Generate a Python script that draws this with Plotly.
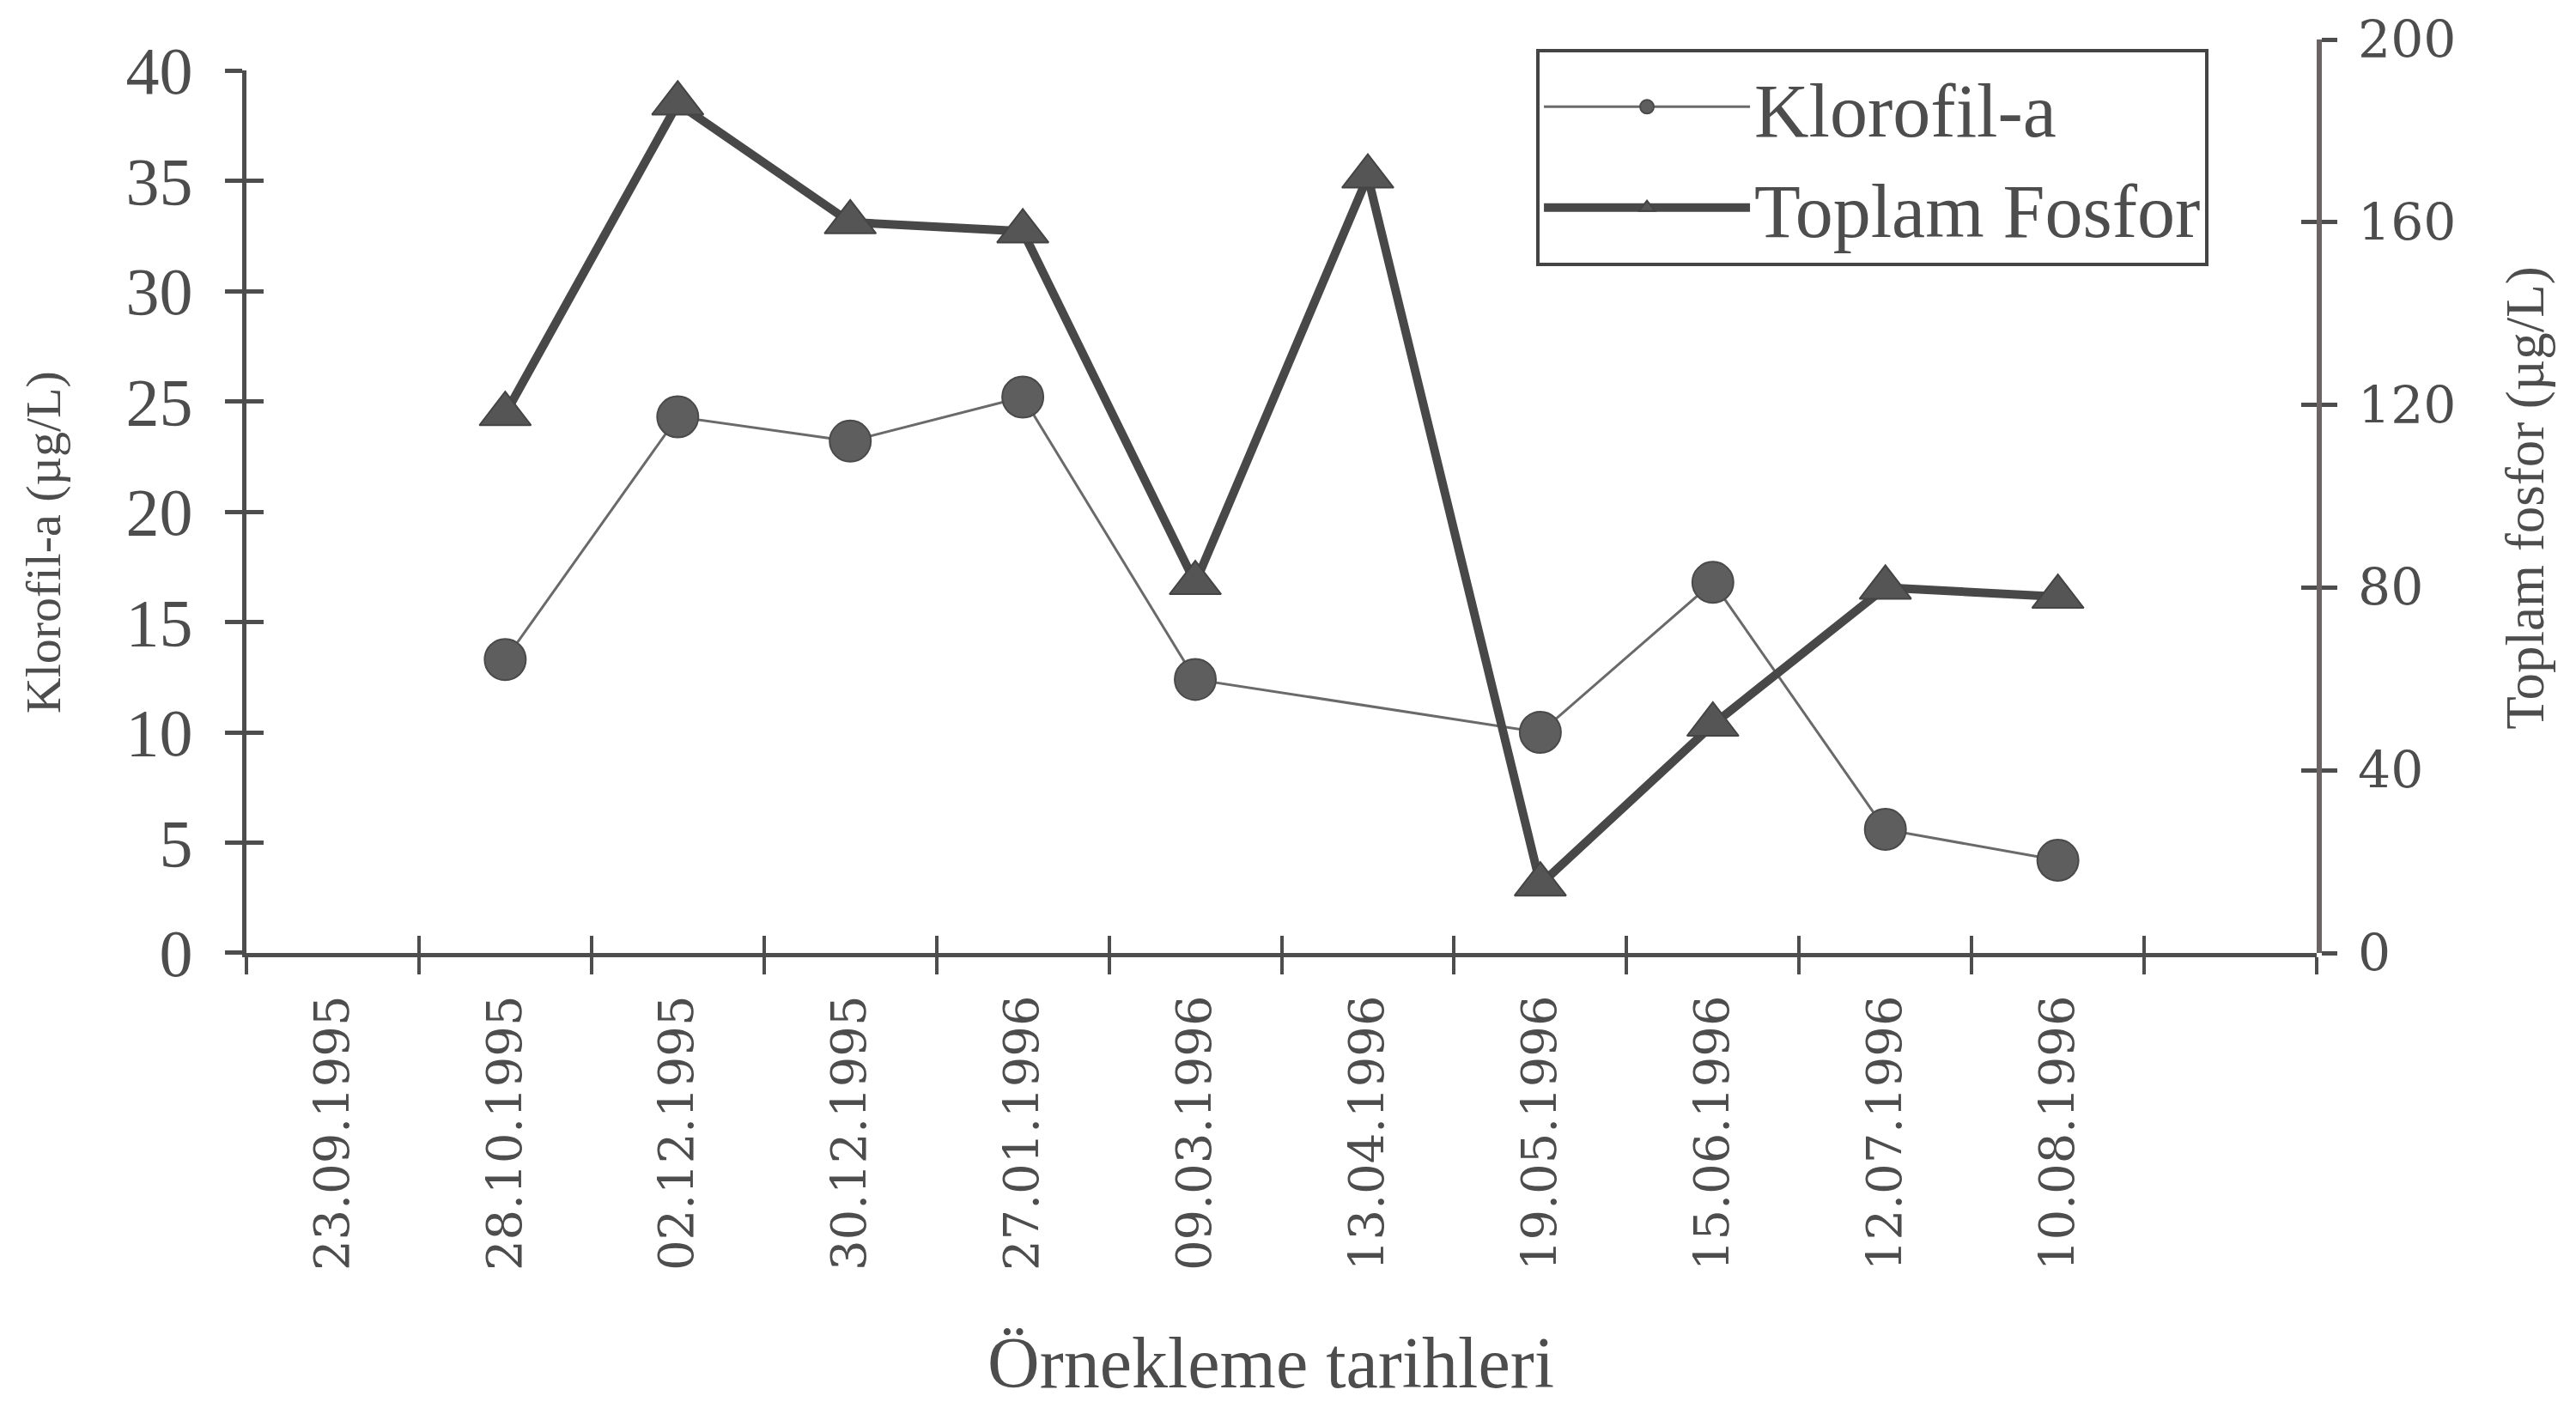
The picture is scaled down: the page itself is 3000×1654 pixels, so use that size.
import plotly.graph_objects as go

dates = ["23.09.1995", "28.10.1995", "02.12.1995", "30.12.1995", "27.01.1996",
         "09.03.1996", "13.04.1996", "19.05.1996", "15.06.1996", "12.07.1996",
         "10.08.1996"]
axis_categories = dates + [" "]
klorofil = [None, 13.3, 24.3, 23.2, 25.2, 12.4, None, 10.0, 16.8, 5.6, 4.2]
fosfor = [None, 118, 186, 160, 158, 81, 170, 15, 50, 80, 78]

left_ticks = [0, 5, 10, 15, 20, 25, 30, 35, 40]
right_ticks = [0, 40, 80, 120, 160, 200]

ink = "#4d4d4d"
serif = "Liberation Serif"
wide_serif = "DejaVu Serif"

fig = go.Figure()
fig.add_trace(go.Scatter(
    x=dates, y=klorofil, name="Klorofil-a", mode="lines+markers",
    connectgaps=True,
    line=dict(color="#6a6a6a", width=3),
    marker=dict(symbol="circle", size=48, color="#5e5e5e",
                line=dict(color="#4a4a4a", width=2)),
    xaxis="x", yaxis="y"))
fig.add_trace(go.Scatter(
    x=dates, y=fosfor, name="Toplam Fosfor", mode="lines+markers",
    connectgaps=True,
    line=dict(color="#484848", width=10),
    marker=dict(symbol="triangle-up", size=52, color="#555555",
                line=dict(color="#444444", width=2)),
    xaxis="x", yaxis="y2"))
# invisible helper traces so the crossing tick overlays are drawn
fig.add_trace(go.Scatter(x=axis_categories, y=[None] * len(axis_categories),
                         showlegend=False, hoverinfo="skip", mode="lines",
                         xaxis="x2", yaxis="y3"))
fig.add_trace(go.Scatter(x=axis_categories, y=[None] * len(axis_categories),
                         showlegend=False, hoverinfo="skip", mode="lines",
                         xaxis="x", yaxis="y4"))
fig.add_trace(go.Scatter(x=axis_categories, y=[None] * len(axis_categories),
                         showlegend=False, hoverinfo="skip", mode="lines",
                         xaxis="x", yaxis="y"))

xcommon = dict(type="category", categoryorder="array", categoryarray=axis_categories,
               range=[-0.5, len(axis_categories) - 0.5], tickson="boundaries",
               ticklen=20, tickwidth=4, tickcolor=ink, showgrid=False, zeroline=False)
left_domain = [0, 0.966]
fig.update_layout(
    width=3000, height=1654,
    paper_bgcolor="white", plot_bgcolor="rgba(0,0,0,0)",
    margin=dict(l=279, r=310, t=38, b=552, autoexpand=False),
    font=dict(family=serif, color=ink),
    xaxis=dict(**xcommon, ticks="outside", showline=True, linecolor=ink, linewidth=5,
               anchor="y",
               tickangle=-90, tickfont=dict(family=wide_serif, size=56, color=ink),
               ticklabelstandoff=22),
    xaxis2=dict(**xcommon, ticks="inside", overlaying="x", matches="x", anchor="y3",
                showticklabels=False, showline=False),
    yaxis=dict(range=[0, 40], domain=left_domain, tickvals=left_ticks, ticks="outside",
               ticklen=20, tickwidth=5, anchor="x",
               tickcolor=ink, showline=True, linecolor=ink, linewidth=5,
               showgrid=False, zeroline=False,
               tickfont=dict(family=serif, size=78, color=ink), ticklabelstandoff=22),
    yaxis2=dict(range=[0, 200], domain=[0, 1], tickvals=right_ticks, ticks="outside",
                ticklen=18, tickwidth=5, anchor="x",
                tickcolor=ink, showline=True, linecolor="#6b6464", linewidth=6,
                side="right", showgrid=False, zeroline=False,
                tickfont=dict(family=wide_serif, size=60, color=ink), ticklabelstandoff=12),
    yaxis3=dict(range=[0, 40], tickvals=left_ticks, ticks="inside", ticklen=20, tickwidth=5,
                tickcolor=ink, overlaying="y", matches="y", side="left", showticklabels=False,
                showline=False, showgrid=False, zeroline=False),
    yaxis4=dict(range=[0, 200], tickvals=right_ticks, ticks="inside", ticklen=18, tickwidth=5,
                tickcolor=ink, overlaying="y2", matches="y2", side="right",
                showticklabels=False, showline=False, showgrid=False, zeroline=False),
    legend=dict(x=0.623, y=0.99, xanchor="left", yanchor="top",
                bgcolor="white", bordercolor="#444444", borderwidth=4,
                font=dict(family=serif, size=88, color=ink),
                itemwidth=240, tracegroupgap=0),
    showlegend=True,
)

fig.add_annotation(text="Klorofil-a (µg/L)", xref="paper", yref="paper",
                   x=-0.0983, y=0.45, xanchor="center", yanchor="middle",
                   textangle=-90, showarrow=False,
                   font=dict(family=serif, size=58, color=ink))
fig.add_annotation(text="Toplam fosfor (µg/L)", xref="paper", yref="paper",
                   x=1.101, y=0.498, xanchor="center", yanchor="middle",
                   textangle=-90, showarrow=False,
                   font=dict(family=serif, size=63, color=ink))
fig.add_annotation(text="Örnekleme tarihleri", xref="paper", yref="paper",
                   x=0.495, y=-0.449, xanchor="center", yanchor="middle",
                   showarrow=False,
                   font=dict(family=serif, size=84, color=ink))

fig.write_html("out.html")
